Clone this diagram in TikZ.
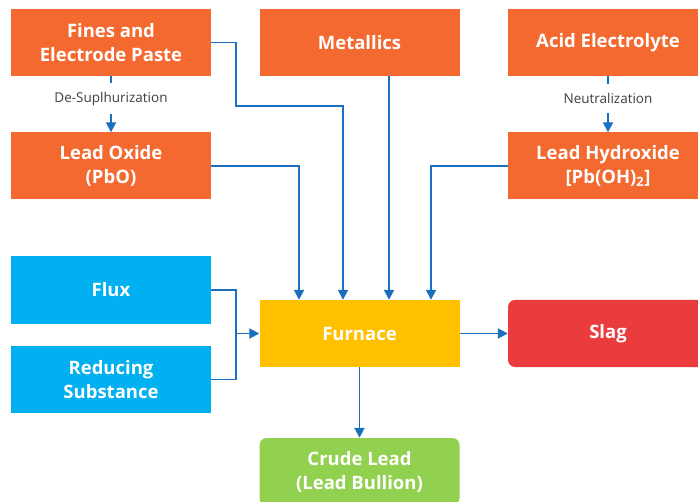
\documentclass[tikz,border=0pt]{standalone}
\usepackage{fontspec}
\setmainfont{Open Sans}
\usetikzlibrary{arrows.meta}
\definecolor{raworange}{HTML}{F4692F}
\definecolor{addblue}{HTML}{00B0F0}
\definecolor{furnaceyellow}{HTML}{FFC000}
\definecolor{slagred}{HTML}{EA3B3D}
\definecolor{leadgreen}{HTML}{92D050}
\definecolor{flowblue}{HTML}{1A6FC1}
\definecolor{labelgrey}{HTML}{404040}
\tikzset{
  box/.style={minimum width=200pt, minimum height=67pt, inner sep=0pt,
    align=center, text=white, font=\fontsize{18.5}{24}\selectfont\bfseries},
  feed/.style={box, fill=raworange},
  additive/.style={box, fill=addblue},
  furnacebox/.style={box, fill=furnaceyellow},
  product/.style={box, rounded corners=7pt},
  flow/.style={draw=flowblue, line width=1.9pt},
  flowarrow/.style={flow, -{Triangle[length=10pt,width=10pt]}},
  steplabel/.style={fill=white, text=labelgrey, inner xsep=2pt, inner ysep=9pt,
    font=\fontsize{13.5}{15}\selectfont}
}
\begin{document}
\begin{tikzpicture}[x=1pt,y=-1pt]
  \useasboundingbox (0,0) rectangle (698,502);
  \clip (0,0) rectangle (698,502);

  % raw materials
  \node[feed] (fines) at (111,42.5) {Fines and\\Electrode Paste};
  \node[feed] (metal) at (359.5,42.5) {Metallics};
  \node[feed] (acid) at (608,42.5) {Acid Electrolyte};
  \node[feed] (pbo) at (111,166) {Lead Oxide\\(PbO)};
  \node[feed] (pboh) at (608,166) {Lead Hydroxide\\{[}Pb(OH)\textsubscript{2}{]}};

  % additives
  \node[additive] (flux) at (111,290) {Flux};
  \node[additive] (reduc) at (111,379.5) {Reducing\\Substance};

  % smelting and products
  \node[furnacebox] (furnace) at (359.5,333.5) {Furnace};
  \node[box, product, fill=slagred] (slag) at (608,333.5) {Slag};
  \node[box, product, fill=leadgreen] (crude) at (359.5,471.5) {Crude Lead\\(Lead Bullion)};

  % pre-treatment steps
  \draw[flowarrow] (fines.south) -- (pbo.north)
    node[pos=0.4, steplabel] {De-Suplhurization};
  \draw[flowarrow] (acid.south) -- (pboh.north)
    node[pos=0.4, steplabel] {Neutralization};

  % charges into the furnace
  \coordinate (bend) at (236,106);
  \draw[flowarrow] (fines.east) -| (bend) -| ([xshift=-16.5pt]furnace.north);
  \draw[flowarrow] ([xshift=29.5pt]metal.south) -- ([xshift=29.5pt]furnace.north);
  \draw[flowarrow] (pbo.east) -| ([xshift=-60.5pt]furnace.north);
  \draw[flowarrow] (pboh.west) -| ([xshift=71.5pt]furnace.north);

  % additives join before entering
  \coordinate (join) at (236,333.5);
  \draw[flow] (flux.east) -| (join);
  \draw[flow] (reduc.east) -| (join);
  \draw[flowarrow] (join) -- (furnace.west);

  % outputs
  \draw[flowarrow] (furnace.east) -- (slag.west);
  \draw[flowarrow] (furnace.south) -- (crude.north);
\end{tikzpicture}
\end{document}
